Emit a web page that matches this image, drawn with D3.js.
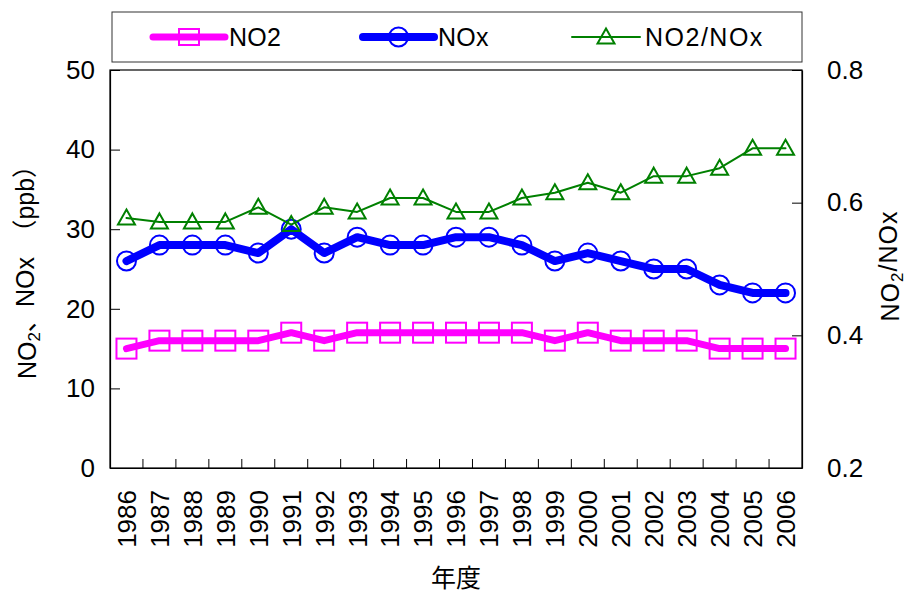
<!DOCTYPE html>
<html>
<head>
<meta charset="utf-8">
<script src="https://cdn.jsdelivr.net/npm/d3@7/dist/d3.min.js"></script>
<style>
  body { margin: 0; background: #fff; }
  svg { display: block; }
  text { font-family: "Liberation Sans", Arial, "Noto Sans CJK JP", sans-serif; fill: #000; }
</style>
</head>
<body>
<svg id="chart" width="912" height="593"></svg>
<script>
// Annual averages (ppb) and NO2/NOx ratio by fiscal year
const years = [1986, 1987, 1988, 1989, 1990, 1991, 1992, 1993, 1994, 1995, 1996,
               1997, 1998, 1999, 2000, 2001, 2002, 2003, 2004, 2005, 2006];
const no2 = [15, 16, 16, 16, 16, 17, 16, 17, 17, 17, 17, 17, 17, 16, 17, 16, 16, 16, 15, 15, 15];
const nox = [26, 28, 28, 28, 27, 30, 27, 29, 28, 28, 29, 29, 28, 26, 27, 26, 25, 25, 23, 22, 22];
const ratio = [0.577, 0.571, 0.571, 0.571, 0.593, 0.567, 0.593, 0.586, 0.607, 0.607, 0.586,
               0.586, 0.607, 0.615, 0.630, 0.615, 0.640, 0.640, 0.652, 0.682, 0.682];
const leftTicks = [0, 10, 20, 30, 40, 50];
const rightTicks = [0.2, 0.4, 0.6, 0.8];
const seriesNames = ["NO2", "NOx", "NO2/NOx"];

const svg = d3.select("#chart");
const plot = { left: 110, right: 802, top: 70, bottom: 468 };

const x = d3.scaleBand().domain(years).range([plot.left, plot.right]).padding(0);
const cx = d => x(d) + x.bandwidth() / 2;
const yL = d3.scaleLinear().domain([0, 50]).range([plot.bottom, plot.top]);
const yR = d3.scaleLinear().domain([0.2, 0.8]).range([plot.bottom, plot.top]);

const fontSize = 26;

// Frame around the plot area
svg.append("rect")
  .attr("x", plot.left).attr("y", plot.top)
  .attr("width", plot.right - plot.left).attr("height", plot.bottom - plot.top)
  .attr("fill", "none").attr("stroke", "#000").attr("stroke-width", 1.2);

// Left axis (ticks pointing inward)
const gL = svg.append("g").attr("transform", `translate(${plot.left},0)`)
  .call(d3.axisLeft(yL).tickValues(leftTicks).tickSizeInner(-10).tickSizeOuter(0).tickPadding(15));
gL.selectAll("text").style("font-size", fontSize + "px");

// Right axis
const gR = svg.append("g").attr("transform", `translate(${plot.right},0)`)
  .call(d3.axisRight(yR).tickValues(rightTicks).tickFormat(d3.format(".1f"))
        .tickSizeInner(-10).tickSizeOuter(0).tickPadding(25));
gR.selectAll("text").style("font-size", fontSize + "px");

// Bottom axis: labels at band centres, tick marks at band boundaries
const gB = svg.append("g").attr("transform", `translate(0,${plot.bottom})`)
  .call(d3.axisBottom(x).tickSize(0).tickPadding(0));
gB.selectAll("text")
  .style("font-size", fontSize + "px")
  .attr("text-anchor", "end")
  .attr("transform", "translate(0,22) rotate(-90)")
  .attr("x", 0).attr("y", 0).attr("dy", "0.36em");
svg.append("g").selectAll("line")
  .data(years.slice(1))
  .join("line")
  .attr("x1", d => x(d)).attr("x2", d => x(d))
  .attr("y1", plot.bottom).attr("y2", plot.bottom - 9)
  .attr("stroke", "#000").attr("stroke-width", 1);

[gL, gR, gB].forEach(g => {
  g.select(".domain").attr("stroke", "#000").attr("stroke-width", 1.2);
  g.selectAll(".tick line").attr("stroke", "#000");
  g.attr("font-family", null);
});

// Axis titles
svg.append("text")
  .attr("transform", "translate(456,578)")
  .attr("text-anchor", "middle").attr("dy", "0.35em")
  .style("font-size", "25px")
  .text("年度");

const yTitle = svg.append("text")
  .attr("transform", "translate(36,266) rotate(-90)")
  .attr("text-anchor", "middle")
  .style("font-size", "25px");
yTitle.append("tspan").text("NO");
yTitle.append("tspan").attr("dy", "0.25em").style("font-size", "17px").text("2");
yTitle.append("tspan").attr("dy", "-0.25em").text("、NOx　（ppb）");

const rTitle = svg.append("text")
  .attr("transform", "translate(899,266) rotate(-90)")
  .attr("text-anchor", "middle")
  .style("font-size", "25px").style("letter-spacing", "1px");
rTitle.append("tspan").text("NO");
rTitle.append("tspan").attr("dy", "0.25em").style("font-size", "17px").text("2");
rTitle.append("tspan").attr("dy", "-0.25em").text("/NOx");

// Marker painters
const pink = "#ff00ff", blue = "#0000ff", green = "#008000";
function square(g, px, py, color) {
  g.append("rect").attr("x", px - 10).attr("y", py - 10).attr("width", 20).attr("height", 20)
    .attr("fill", "none").attr("stroke", color).attr("stroke-width", 2);
}
function circle(g, px, py, color) {
  g.append("circle").attr("cx", px).attr("cy", py).attr("r", 9.5)
    .attr("fill", "none").attr("stroke", color).attr("stroke-width", 2);
}
function triangle(g, px, py, color) {
  g.append("path")
    .attr("d", `M${px},${py - 8.5}L${px + 8.5},${py + 6.5}L${px - 8.5},${py + 6.5}Z`)
    .attr("fill", "none").attr("stroke", color).attr("stroke-width", 2).attr("stroke-linejoin", "miter");
}

function drawSeries(values, yScale, color, width, marker) {
  const g = svg.append("g");
  const line = d3.line().x((d, i) => cx(years[i])).y(d => yScale(d));
  g.append("path").datum(values).attr("d", line)
    .attr("fill", "none").attr("stroke", color).attr("stroke-width", width)
    .attr("stroke-linecap", "round").attr("stroke-linejoin", "round");
  values.forEach((v, i) => marker(g, cx(years[i]), yScale(v), color));
}

drawSeries(no2, yL, pink, 7, square);
drawSeries(nox, yL, blue, 8, circle);
drawSeries(ratio, yR, green, 2, triangle);

// Legend
const lg = svg.append("g");
lg.append("rect").attr("x", 112).attr("y", 12).attr("width", 690).attr("height", 50)
  .attr("fill", "#fff").attr("stroke", "#333").attr("stroke-width", 1);
const legendItems = [
  { name: seriesNames[0], color: pink, width: 7, marker: square, x0: 153, x1: 225, tx: 229, ls: 0.3 },
  { name: seriesNames[1], color: blue, width: 8, marker: circle, x0: 363, x1: 434, tx: 438, ls: 0.3 },
  { name: seriesNames[2], color: green, width: 2, marker: triangle, x0: 572, x1: 640, tx: 645, ls: 1.5 }
];
legendItems.forEach(it => {
  const ly = 37;
  lg.append("line").attr("x1", it.x0).attr("x2", it.x1).attr("y1", ly).attr("y2", ly)
    .attr("stroke", it.color).attr("stroke-width", it.width).attr("stroke-linecap", "round");
  const mg = lg.append("g");
  it.marker(mg, (it.x0 + it.x1) / 2, ly, it.color);
  mg.selectAll("rect").attr("height", 16).attr("y", ly - 8);
  lg.append("text").attr("x", it.tx).attr("y", ly).attr("dy", "0.35em")
    .style("font-size", "25px").style("letter-spacing", it.ls + "px").text(it.name);
});
</script>
</body>
</html>
